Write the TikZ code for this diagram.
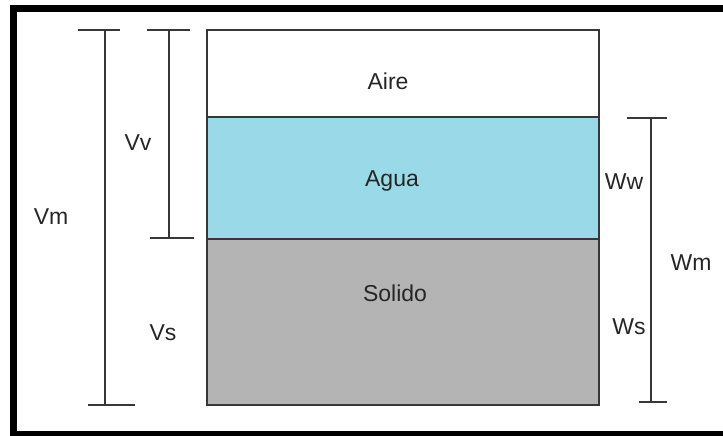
\documentclass[tikz,border=0pt]{standalone}
\usepackage{fontspec}
\setmainfont{Liberation Sans}
\definecolor{agua}{RGB}{154,218,232}
\definecolor{solido}{RGB}{180,180,180}
\definecolor{linea}{RGB}{55,55,55}

\begin{document}
\begin{tikzpicture}[x=1pt, y=-1pt, line width=2pt,
    capa/.style={draw=linea, line width=2pt},
    cota/.style={draw=linea, line width=2pt},
    txt/.style={inner sep=0pt, text=black!85, font=\fontsize{23}{25}\selectfont}]
    
    \useasboundingbox (0,0) rectangle (723,436);
    \fill[white] (0,0) rectangle (723,436);
    % frame, cut at the right
    \draw[line width=7pt] (723,8.5) -- (13.5,8.5) -- (13.5,434) -- (723,434);
    
    % layers
    \draw[capa, fill=white]  (207,30)  rectangle (599,117);
    \draw[capa, fill=agua]   (207,117) rectangle (599,239);
    \draw[capa, fill=solido] (207,239) rectangle (599,405);
    \node[txt] (aire) at (388,81) {Aire};
    \node[txt] (agua) at (392,181) {Agua};
    \node[txt] (solido) at (395,293) {Solido};
    
    % volumes
    \draw[cota] (105,30) -- (105,405); \draw[cota] (78,30) -- (120,30); \draw[cota] (88,405) -- (135,405);
    \draw[cota] (169,30) -- (169,238); \draw[cota] (147,30) -- (190,30); \draw[cota] (150,238) -- (194,238);
    \node[txt] (vm) at (51,217) {Vm};
    \node[txt] (vv) at (138,143) {Vv};
    \node[txt] (vs) at (163,333) {Vs};
    
    % weights
    \draw[cota] (651,118) -- (651,402); \draw[cota] (627,118) -- (667,118); \draw[cota] (639,402) -- (667,402);
    \node[txt] (ww) at (624,182) {Ww};
    \node[txt] (ws) at (629,327) {Ws};
    \node[txt] (wm) at (691,263) {Wm};
    
\end{tikzpicture}
\end{document}
